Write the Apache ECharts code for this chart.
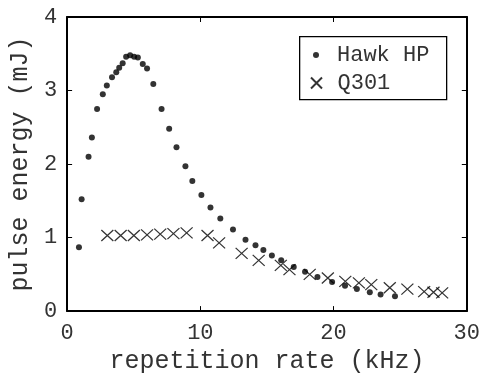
<!DOCTYPE html>
<html>
<head>
<meta charset="utf-8">
<script src="https://cdn.jsdelivr.net/npm/echarts@6/dist/echarts.min.js"></script>
<style>
html,body{margin:0;padding:0;background:#fff;}
#chart{width:483px;height:379px;}
</style>
</head>
<body>
<div id="chart"></div>
<script>
// Hawk HP: repetition rate (kHz), pulse energy (mJ)
const hawkX = [0.89,1.09,1.61,1.86,2.25,2.68,2.98,3.37,3.69,3.91,4.17,4.43,4.73,5.03,5.31,5.68,6.00,6.47,7.09,7.66,8.21,8.88,9.40,10.08,10.76,11.50,12.45,13.39,14.14,14.73,15.37,16.07,17.01,17.86,18.79,19.89,20.86,21.75,22.72,23.53,24.61];
const hawkY = [0.87,1.52,2.10,2.36,2.75,2.95,3.07,3.18,3.25,3.31,3.37,3.46,3.48,3.46,3.45,3.36,3.30,3.09,2.75,2.48,2.23,1.97,1.77,1.58,1.41,1.26,1.11,0.97,0.895,0.83,0.756,0.69,0.60,0.534,0.464,0.395,0.344,0.30,0.256,0.227,0.203];
// Q301
const q301X = [3.02,4.02,5.01,6.00,6.99,7.98,8.97,10.54,11.41,13.10,14.38,16.04,16.69,18.21,19.57,20.88,21.90,22.83,24.22,25.54,26.80,27.50,28.15];
const q301Y = [1.028,1.028,1.028,1.037,1.046,1.054,1.064,1.028,0.927,0.785,0.689,0.622,0.564,0.50,0.45,0.405,0.384,0.359,0.318,0.30,0.266,0.256,0.249];

const xTicks = {min: 0, max: 30, interval: 10};
const yTicks = {min: 0, max: 4, interval: 1};
const seriesNames = ['Hawk HP', 'Q301'];
const xTitle = 'repetition rate (kHz)';
const yTitle = 'pulse energy (mJ)';

const FONT = '"Liberation Mono", "DejaVu Sans Mono", monospace';
const TXT = '#333';
const axisLine = {show: true, onZero: false, lineStyle: {color: '#000', width: 2}};
const axisTick = {show: true, inside: true, length: 5, lineStyle: {color: '#000', width: 1}};

const chart = echarts.init(document.getElementById('chart'), null, {renderer: 'canvas'});
chart.setOption({
  animation: false,
  backgroundColor: '#fff',
  grid: {left: 67, right: 13, top: 17, bottom: 60},
  xAxis: [{
    type: 'value', min: xTicks.min, max: xTicks.max, interval: xTicks.interval,
    axisLine: axisLine, axisTick: axisTick, splitLine: {show: false},
    axisLabel: {color: TXT, fontFamily: FONT, fontSize: 22, margin: 11},
    name: xTitle, nameLocation: 'middle', nameGap: 36,
    nameTextStyle: {color: TXT, fontFamily: FONT, fontSize: 25}
  }, {
    type: 'value', position: 'top', min: xTicks.min, max: xTicks.max, interval: xTicks.interval,
    axisLine: axisLine, axisTick: axisTick, splitLine: {show: false}, axisLabel: {show: false}
  }],
  yAxis: [{
    type: 'value', min: yTicks.min, max: yTicks.max, interval: yTicks.interval,
    axisLine: axisLine, axisTick: axisTick, splitLine: {show: false},
    axisLabel: {color: TXT, fontFamily: FONT, fontSize: 22, margin: 10},
    name: yTitle, nameLocation: 'middle', nameGap: 33, nameRotate: 90,
    nameTextStyle: {color: TXT, fontFamily: FONT, fontSize: 25}
  }, {
    type: 'value', position: 'right', min: yTicks.min, max: yTicks.max, interval: yTicks.interval,
    axisLine: axisLine, axisTick: axisTick, splitLine: {show: false}, axisLabel: {show: false}
  }],
  graphic: [{
    type: 'rect', left: 299, top: 36, z: 100,
    shape: {width: 147, height: 63},
    style: {fill: '#fff', stroke: '#000', lineWidth: 1.3}
  }],
  legend: [{
    data: [seriesNames[0]], left: 313, top: 44, orient: 'vertical', z: 110,
    itemWidth: 6, itemHeight: 6, padding: 0, selectedMode: false,
    textStyle: {color: TXT, fontFamily: FONT, fontSize: 22, padding: [0, 0, 0, 13]}
  }, {
    data: [seriesNames[1]], left: 310, top: 72, orient: 'vertical', z: 110,
    itemWidth: 12, itemHeight: 11, padding: 0, selectedMode: false,
    textStyle: {color: TXT, fontFamily: FONT, fontSize: 22, padding: [0, 0, 0, 10]}
  }],
  series: [{
    name: seriesNames[0], type: 'scatter', symbol: 'circle', symbolSize: 6,
    itemStyle: {color: '#000'},
    data: hawkX.map((x, i) => [x, hawkY[i]])
  }, {
    name: seriesNames[1], type: 'scatter', symbol: 'path://M0,0L10,10M0,10L10,0',
    symbolSize: [12, 11],
    itemStyle: {color: 'rgba(0,0,0,0)', borderColor: '#000', borderWidth: 1.2},
    data: q301X.map((x, i) => [x, q301Y[i]])
  }]
});
</script>
</body>
</html>
